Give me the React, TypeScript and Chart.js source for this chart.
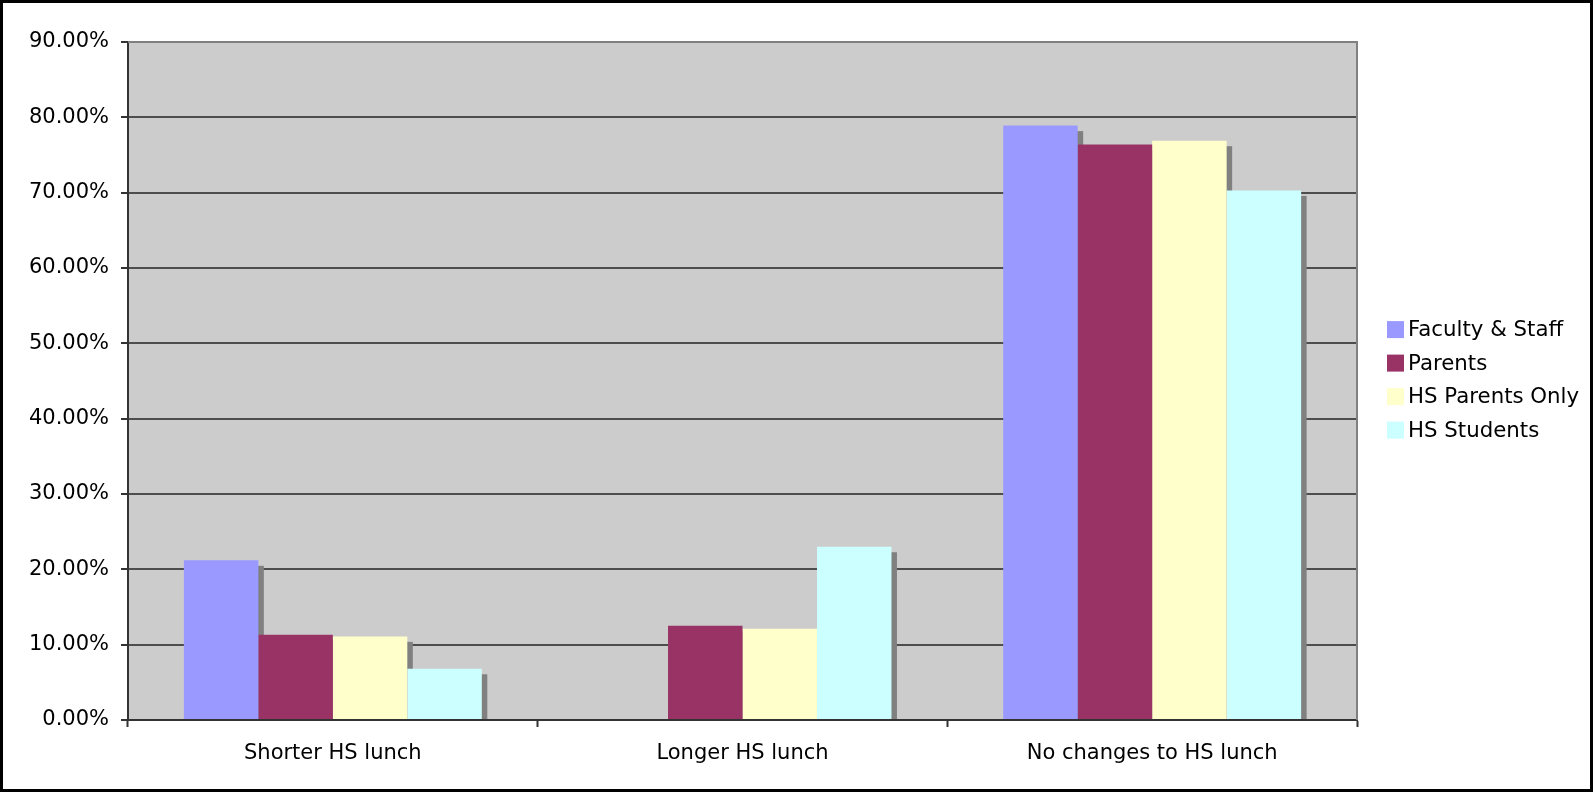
import React, { useEffect, useRef } from 'react';
import { Chart, registerables } from 'chart.js';

Chart.register(...registerables);

const categories = ['Shorter HS lunch', 'Longer HS lunch', 'No changes to HS lunch'];
const seriesNames = ['Faculty & Staff', 'Parents', 'HS Parents Only', 'HS Students'];
const facultyStaff = [21.2, 0, 78.9];
const parents = [11.3, 12.5, 76.4];
const hsParentsOnly = [11.1, 12.1, 76.9];
const hsStudents = [6.8, 23.0, 70.3];
const seriesColors = ['#9999FF', '#993366', '#FFFFCC', '#CCFFFF'];
const yMin = 0;
const yMax = 90;
const yStep = 10;

const FONT = "'DejaVu Sans', Verdana, sans-serif";

const decorPlugin = {
  id: 'decor',
  beforeDraw(chart: any) {
    const { ctx, chartArea: a } = chart;
    ctx.save();
    ctx.fillStyle = '#ffffff';
    ctx.fillRect(0, 0, chart.width, chart.height);
    ctx.fillStyle = '#CCCCCC';
    ctx.fillRect(a.left, a.top, a.right - a.left, a.bottom - a.top);
    ctx.restore();
  },
  beforeDatasetsDraw(chart: any) {
    const { ctx, chartArea: a } = chart;
    ctx.save();
    ctx.beginPath();
    ctx.rect(a.left, a.top, a.right - a.left, a.bottom - a.top);
    ctx.clip();
    ctx.fillStyle = '#808080';
    chart.data.datasets.forEach((ds: any, i: number) => {
      const meta = chart.getDatasetMeta(i);
      meta.data.forEach((el: any, j: number) => {
        const v = ds.data[j];
        if (!v) return;
        const { x, y, base, width } = el.getProps(['x', 'y', 'base', 'width'], true);
        const off = 5.5;
        ctx.fillRect(x - width / 2 + off, y + off, width, base - y - off);
      });
    });
    ctx.restore();
  },
  afterDraw(chart: any) {
    const { ctx, chartArea: a } = chart;
    ctx.save();
    // plot area border (top, right) in grey
    ctx.strokeStyle = '#808080';
    ctx.lineWidth = 2;
    ctx.beginPath();
    ctx.moveTo(a.left, a.top);
    ctx.lineTo(a.right, a.top);
    ctx.lineTo(a.right, a.bottom);
    ctx.stroke();
    // outer border
    ctx.strokeStyle = '#000000';
    ctx.lineWidth = 3;
    ctx.strokeRect(1.5, 1.5, chart.width - 3, chart.height - 3);
    // legend
    const boxX = a.right + 30;
    const firstY = 329.6;
    const gap = 33.5;
    ctx.font = `21.3px ${FONT}`;
    ctx.textBaseline = 'middle';
    ctx.textAlign = 'left';
    chart.data.datasets.forEach((ds: any, i: number) => {
      const cy = firstY + i * gap;
      ctx.fillStyle = ds.backgroundColor;
      ctx.fillRect(boxX, cy - 8.5, 17, 17);
      ctx.fillStyle = '#000000';
      ctx.fillText(ds.label, boxX + 21, cy + 1);
    });
    ctx.restore();
  },
};

export default function App() {
  const canvasRef = useRef<HTMLCanvasElement | null>(null);

  useEffect(() => {
    document.body.style.margin = '0';
    const canvas = canvasRef.current;
    if (!canvas) return;
    const seriesValues = [facultyStaff, parents, hsParentsOnly, hsStudents];
    const chart = new Chart(canvas, {
      type: 'bar',
      data: {
        labels: categories,
        datasets: seriesNames.map((name, i) => ({
          label: name,
          data: seriesValues[i],
          backgroundColor: seriesColors[i],
          borderWidth: 0,
          categoryPercentage: 4 / 5.5,
          barPercentage: 1,
        })),
      },
      options: {
        responsive: false,
        animation: false,
        devicePixelRatio: 1,
        layout: { padding: { top: 42, right: 236, bottom: 0, left: 0 } },
        plugins: {
          legend: { display: false },
          tooltip: { enabled: false },
        },
        scales: {
          x: {
            afterFit(scale: any) {
              scale.height = 72;
            },
            grid: {
              offset: true,
              drawOnChartArea: false,
              drawTicks: true,
              tickLength: 7,
              tickColor: '#333333',
              tickWidth: 2,
            },
            border: { display: true, color: '#333333', width: 2 },
            ticks: {
              color: '#000000',
              font: { family: FONT, size: 21 },
              padding: 14,
              maxRotation: 0,
            },
          },
          y: {
            min: yMin,
            max: yMax,
            afterFit(scale: any) {
              scale.width = 128;
            },
            grid: {
              color: '#4d4d4d',
              lineWidth: 2,
              drawTicks: true,
              tickLength: 7,
              tickColor: '#333333',
            },
            border: { display: true, color: '#333333', width: 2 },
            ticks: {
              stepSize: yStep,
              color: '#000000',
              font: { family: FONT, size: 21 },
              padding: 12,
              callback: (v: any) => Number(v).toFixed(2) + '%',
            },
          },
        },
      },
      plugins: [decorPlugin],
    });
    return () => chart.destroy();
  }, []);

  return (
    <div style={{ width: 1593, height: 792 }}>
      <canvas ref={canvasRef} width={1593} height={792} style={{ display: 'block' }} />
    </div>
  );
}
